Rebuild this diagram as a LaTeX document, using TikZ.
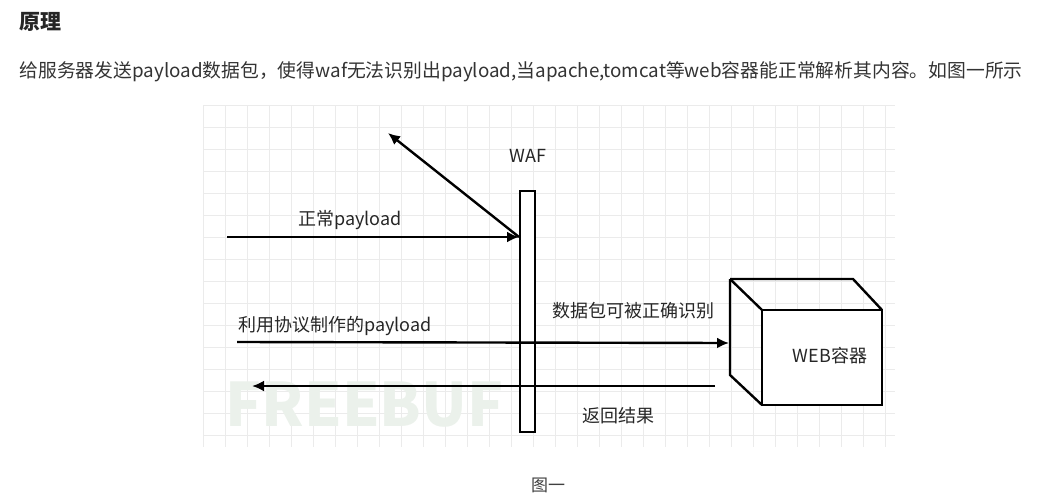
\documentclass[tikz,border=0pt]{standalone}
\usepackage{fontspec}
\setmainfont{Noto Sans CJK SC}
\usetikzlibrary{arrows.meta}

\begin{document}
\begin{tikzpicture}
[
    x=1pt, y=-1pt,
    flow/.style={line width=2.4pt, -{Latex[length=12pt,width=11pt]}},
    lbl/.style={font=\fontsize{18}{18}\selectfont, text=black!85},
    gridline/.style={black!8, line width=0.5pt},
]
\useasboundingbox (0,0) rectangle (1057,503);
% page text
\node [anchor=west, font=\bfseries\fontsize{21}{21}\selectfont, text=black!85] (title) at (16,22) {原理};
\node [anchor=west, font=\fontsize{18.8}{19}\selectfont, text=black!80] (intro) at (16,72)
{给服务器发送payload数据包，使得waf无法识别出payload,当apache,tomcat等web容器能正常解析其内容。如图一所示};
% grid
\foreach \gx in {203,225,...,895} \draw [gridline] (\gx,105) -- (\gx,447);
\foreach \gy in {105,127,...,447} \draw [gridline] (203,\gy) -- (895,\gy);
% watermark
\node [font=\bfseries\fontsize{60}{60}\selectfont, text=green!30!black!8, anchor=west] (mark) at (222,405) {FREEBUF};
% waf
\draw [line width=2.2pt, fill=white] (520,191) rectangle (535,432);
\coordinate (wafin) at (519,237);
\node [lbl] (waf) at (528,156) {WAF};
% web container
\draw [line width=2.4pt] (730,279) -- (853,279) -- (882,310);
\draw [line width=2.4pt] (730,279) -- (730,375) -- (762,405);
\draw [line width=2.4pt] (730,279) -- (762,310);
\draw [line width=2.4pt, fill=white] (762,310) rectangle (882,405);
\node [lbl] (web) at (830,356) {WEB容器};
% arrows
\coordinate (n0) at (227,237);
\coordinate (up) at (388,133);
\draw [flow] (n0) -- (wafin);
\draw [flow] (wafin) -- (up);
\node [lbl] (normal) at (350,220) {正常payload};
\coordinate (p0) at (237,342);
\coordinate (p1) at (729,343);
\draw [flow] (p0) -- (p1);
\node [lbl] (proto) at (335,326) {利用协议制作的payload};
\node [lbl] (ok) at (633,311) {数据包可被正确识别};
\coordinate (r0) at (715,386);
\coordinate (r1) at (252,386);
\draw [flow] (r0) -- (r1);
\node [lbl] (ret) at (618,416) {返回结果};
% caption
\node [font=\fontsize{17}{17}\selectfont, text=black!75] (cap) at (548,485) {图一};
\end{tikzpicture}
\end{document}
